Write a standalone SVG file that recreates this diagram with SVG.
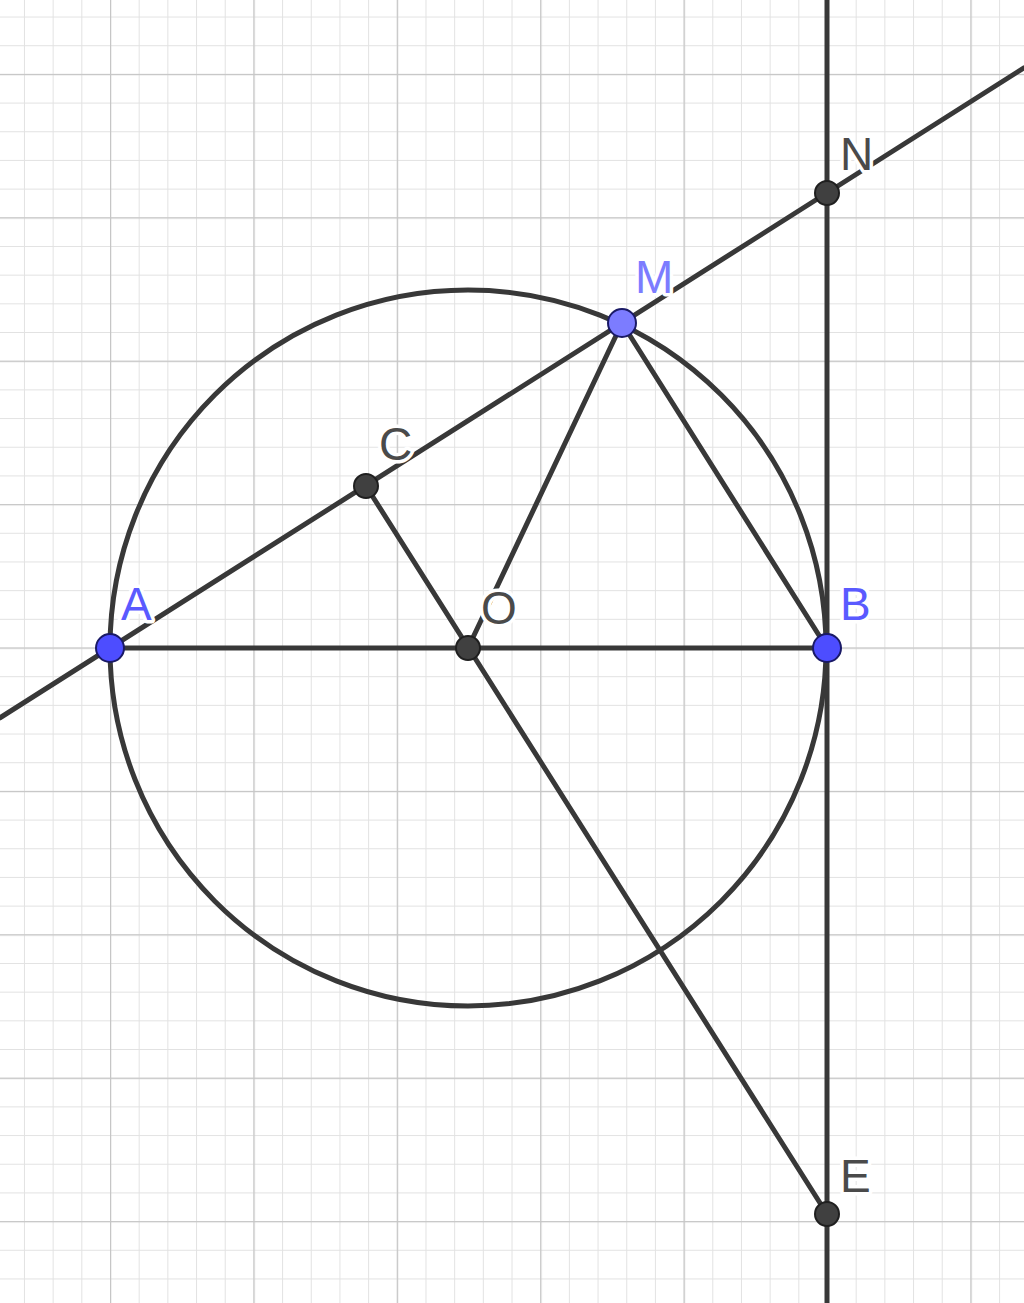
<svg xmlns="http://www.w3.org/2000/svg" width="1024" height="1303" viewBox="0 0 1024 1303">
<defs>
<pattern id="minor" x="110" y="647.5" width="28.68" height="28.68" patternUnits="userSpaceOnUse">
<path d="M0 0V28.68M0 0H28.68" stroke="#e2e2e2" stroke-width="2" fill="none"/>
</pattern>
<pattern id="major" x="110" y="647.5" width="143.4" height="143.4" patternUnits="userSpaceOnUse">
<path d="M0 0V143.4M0 0H143.4" stroke="#c6c6c6" stroke-width="2.5" fill="none"/>
</pattern>
</defs>
<style>
.ln{stroke:#383838;stroke-width:5;fill:none;stroke-linecap:round}
.pt{fill:#404040;stroke:#1f1f1f;stroke-width:2}
.bp{fill:#4d4dff;stroke:#1a1a66;stroke-width:2}
.mp{fill:#7c7cff;stroke:#1a1a66;stroke-width:2}
.lb{font-family:"Liberation Sans",Arial,sans-serif;font-size:46px;stroke:#ffffff;stroke-width:7;paint-order:stroke;stroke-linejoin:round}
.g{fill:#4a4a4a}
.b{fill:#5a5aff}
.bm{fill:#7c7cff}
</style>
<rect width="1024" height="1303" fill="#ffffff"/>
<rect width="1024" height="1303" fill="url(#minor)"/>
<rect width="1024" height="1303" fill="url(#major)"/>
<g id="connectors">
<circle class="ln" cx="468" cy="648" r="358"/>
<line class="ln" x1="827" y1="0" x2="827" y2="1303"/>
<line class="ln" x1="0" y1="717.8" x2="1024" y2="67.8"/>
<line class="ln" x1="110" y1="648" x2="827" y2="648"/>
<line class="ln" x1="468" y1="648" x2="622" y2="323"/>
<line class="ln" x1="622" y1="323" x2="827" y2="648"/>
<line class="ln" x1="366" y1="486" x2="827" y2="1214"/>
</g>
<g id="node-N"><circle class="pt" cx="827" cy="193" r="12"/><text class="lb g" x="840" y="170">N</text></g>
<g id="node-C"><circle class="pt" cx="366" cy="486" r="12"/><text class="lb g" x="379" y="460">C</text></g>
<g id="node-O"><circle class="pt" cx="468" cy="648" r="12"/><text class="lb g" x="481" y="624">O</text></g>
<g id="node-E"><circle class="pt" cx="827" cy="1214" r="12"/><text class="lb g" x="840" y="1192">E</text></g>
<g id="node-A"><circle class="bp" cx="110" cy="648" r="14"/><text class="lb b" x="121" y="620">A</text></g>
<g id="node-B"><circle class="bp" cx="827" cy="648" r="14"/><text class="lb b" x="840" y="620">B</text></g>
<g id="node-M"><circle class="mp" cx="622" cy="323" r="14"/><text class="lb bm" x="635" y="293">M</text></g>
</svg>
